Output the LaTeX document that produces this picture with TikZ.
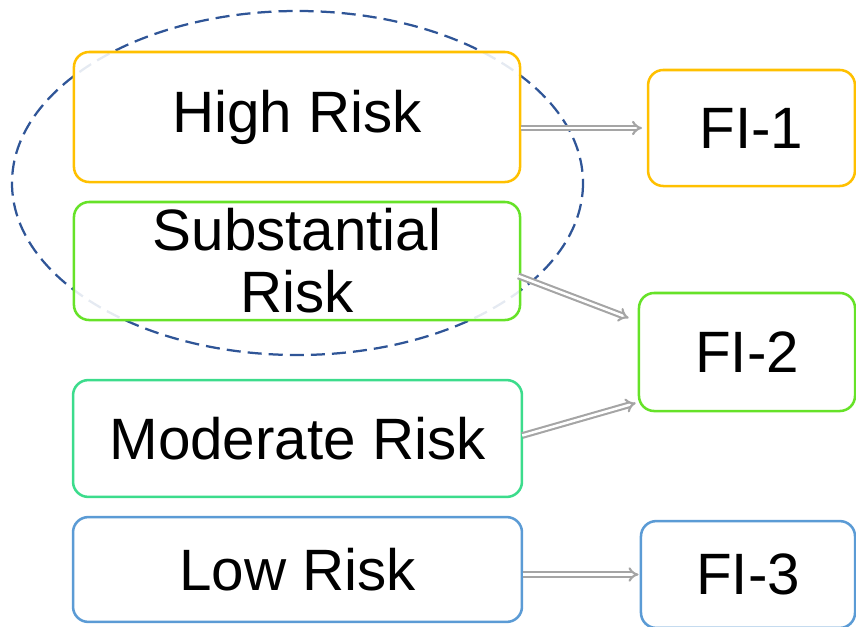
\documentclass[tikz,border=0pt]{standalone}
\usepackage{fontspec}
\setmainfont{Liberation Sans}
\usetikzlibrary{arrows.meta}
\definecolor{yel}{RGB}{255,192,0}
\definecolor{lime}{RGB}{102,226,40}
\definecolor{teal}{RGB}{60,220,140}
\definecolor{blu}{RGB}{91,155,213}
\definecolor{navy}{RGB}{47,85,151}
\definecolor{arr}{RGB}{165,165,165}
\tikzset{
  box/.style={rectangle,rounded corners=0.38cm,line width=1.8pt,fill=white,fill opacity=0.88,text opacity=1,inner sep=0pt,align=center,font=\fontsize{41.5}{44}\selectfont},
  dbl/.style={draw=arr,line width=1.5pt,double=white,double distance=1.8pt,-{Implies}}
}
\begin{document}
\begin{tikzpicture}[x=0.025cm,y=-0.025cm]
\useasboundingbox (0,0) rectangle (856,626);
\draw[navy,line width=1.6pt,dash pattern=on 10pt off 5pt] (297.5,183) ellipse [x radius=285.5,y radius=172];
\node[box,draw=yel,minimum width=11.15cm,minimum height=3.25cm] (1) at (297,117) {High Risk};
\node[box,draw=lime,minimum width=11.15cm,minimum height=2.95cm] (2) at (297,261) {Substantial\\Risk};
\node[box,draw=teal,minimum width=11.22cm,minimum height=2.92cm] (3) at (297.5,438.5) {Moderate Risk};
\node[box,draw=blu,minimum width=11.22cm,minimum height=2.62cm] (4) at (297.5,569.5) {Low Risk};
\node[box,draw=yel,minimum width=5.17cm,minimum height=2.9cm] (5) at (751.5,128) {FI-1};
\node[box,draw=lime,minimum width=5.4cm,minimum height=2.95cm] (6) at (747,352) {FI-2};
\node[box,draw=blu,minimum width=5.35cm,minimum height=2.67cm] (7) at (748,574.5) {FI-3};
\draw[dbl] (1.east |- 5.west) to ([xshift=-0.12cm]5.west);
\draw[dbl] ([shift={(-3,15)}]2.east) to ([shift={(-9,-34)}]6.west);
\draw[dbl] ([shift={(-1,-3)}]3.east) to ([shift={(-2,51)}]6.west);
\draw[dbl] (4.east |- 7.west) to ([xshift=-0.03cm]7.west);
\end{tikzpicture}
\end{document}
